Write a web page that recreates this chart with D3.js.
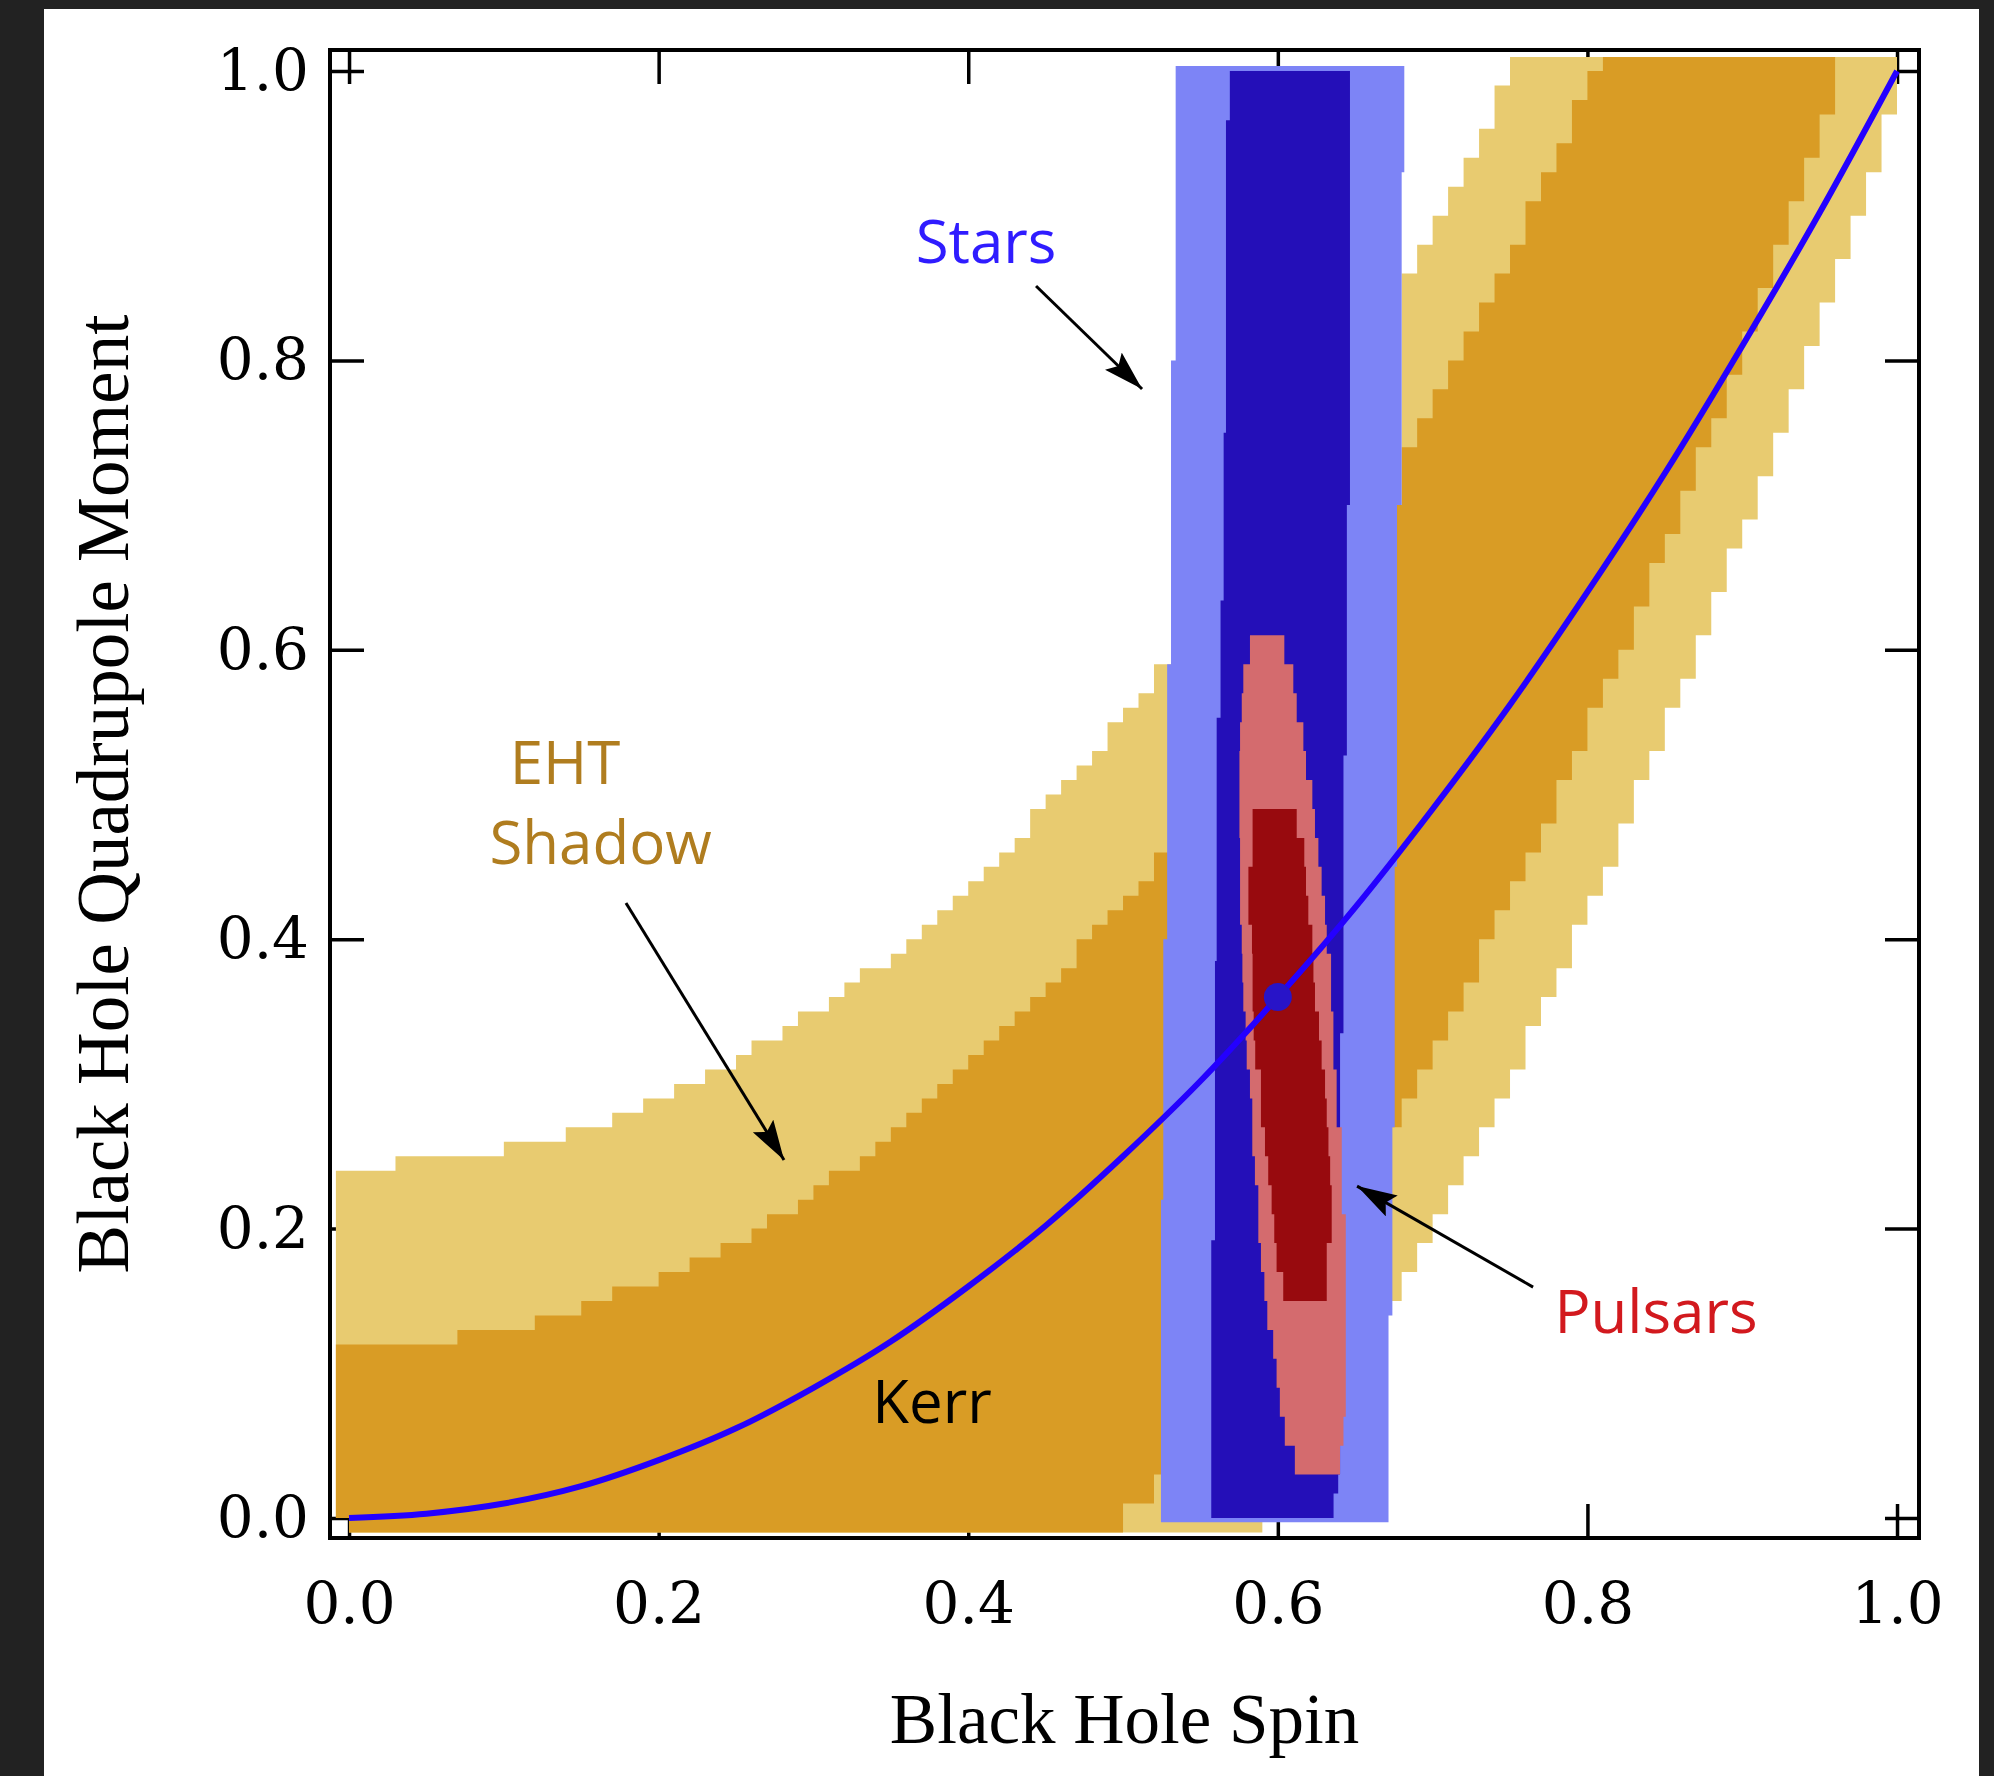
<!DOCTYPE html>
<html>
<head>
<meta charset="utf-8">
<script src="https://cdn.jsdelivr.net/npm/d3@7"></script>
<style>
  html, body { margin: 0; padding: 0; background: #222; }
  svg { display: block; }
</style>
</head>
<body>
<svg id="chart" width="1994" height="1776"></svg>
<script>
// tick values shared by all four sides
var tickValues = [0, 0.2, 0.4, 0.6, 0.8, 1.0];

// Kerr relation
var kerrSpin = [0, 0.05, 0.1, 0.15, 0.2, 0.25, 0.3, 0.35, 0.4, 0.45, 0.5, 0.55, 0.6, 0.65, 0.7, 0.75, 0.8, 0.85, 0.9, 0.95, 1.0];
var kerrQuad = [0, 0.003, 0.01, 0.022, 0.04, 0.062, 0.09, 0.122, 0.16, 0.202, 0.25, 0.302, 0.36, 0.422, 0.49, 0.562, 0.64, 0.722, 0.81, 0.902, 1.0];
var kerrPoint = [0.6, 0.36];

// EHT shadow, outer (light) band: step corners [spin, quadrupole]
var ehtOuterUpper = [[-0.01, 0.24], [0.03, 0.25], [0.10, 0.26], [0.14, 0.27], [0.17, 0.28], [0.19, 0.29], [0.21, 0.30],
  [0.23, 0.31], [0.25, 0.32], [0.26, 0.33], [0.28, 0.34], [0.29, 0.35], [0.31, 0.36], [0.32, 0.37], [0.33, 0.38],
  [0.35, 0.39], [0.36, 0.40], [0.37, 0.41], [0.38, 0.42], [0.39, 0.43], [0.40, 0.44], [0.41, 0.45], [0.42, 0.46],
  [0.43, 0.47], [0.44, 0.49], [0.45, 0.50], [0.46, 0.51], [0.47, 0.52], [0.48, 0.53], [0.49, 0.55], [0.50, 0.56],
  [0.51, 0.57], [0.52, 0.59], [0.68, 0.86], [0.69, 0.88], [0.70, 0.90], [0.71, 0.92], [0.72, 0.94], [0.73, 0.96],
  [0.74, 0.99], [0.75, 1.01], [1.0, 1.01]];
var ehtOuterLower = [[-0.01, -0.01], [0.59, 0.05], [0.67, 0.15], [0.68, 0.17], [0.69, 0.19], [0.70, 0.21], [0.71, 0.23],
  [0.72, 0.25], [0.73, 0.27], [0.74, 0.29], [0.75, 0.31], [0.76, 0.34], [0.77, 0.36], [0.78, 0.38], [0.79, 0.41],
  [0.80, 0.43], [0.81, 0.45], [0.82, 0.48], [0.83, 0.51], [0.84, 0.53], [0.85, 0.56], [0.86, 0.58], [0.87, 0.61],
  [0.88, 0.64], [0.89, 0.67], [0.90, 0.69], [0.91, 0.72], [0.92, 0.75], [0.93, 0.78], [0.94, 0.81], [0.95, 0.84],
  [0.96, 0.87], [0.97, 0.90], [0.98, 0.93], [0.99, 0.97], [1.0, 1.01]];

// EHT shadow, inner (dark) band
var ehtInnerUpper = [[-0.01, 0.12], [0.07, 0.13], [0.12, 0.14], [0.15, 0.15], [0.17, 0.16], [0.20, 0.17], [0.22, 0.18],
  [0.24, 0.19], [0.26, 0.20], [0.27, 0.21], [0.29, 0.22], [0.30, 0.23], [0.31, 0.24], [0.33, 0.25], [0.34, 0.26],
  [0.35, 0.27], [0.36, 0.28], [0.37, 0.29], [0.38, 0.30], [0.39, 0.31], [0.40, 0.32], [0.41, 0.33], [0.42, 0.34],
  [0.43, 0.35], [0.44, 0.36], [0.45, 0.37], [0.46, 0.38], [0.47, 0.40], [0.48, 0.41], [0.49, 0.42], [0.50, 0.43],
  [0.51, 0.44], [0.52, 0.46], [0.67, 0.70], [0.68, 0.74], [0.69, 0.76], [0.70, 0.78], [0.71, 0.80], [0.72, 0.82],
  [0.73, 0.84], [0.74, 0.86], [0.75, 0.88], [0.76, 0.91], [0.77, 0.93], [0.78, 0.95], [0.79, 0.98], [0.80, 1.00],
  [0.81, 1.01], [0.96, 1.01]];
var ehtInnerLower = [[-0.01, -0.01], [0.50, 0.01], [0.52, 0.03], [0.67, 0.27], [0.68, 0.29], [0.69, 0.31], [0.70, 0.33],
  [0.71, 0.35], [0.72, 0.37], [0.73, 0.40], [0.74, 0.42], [0.75, 0.44], [0.76, 0.46], [0.77, 0.48], [0.78, 0.51],
  [0.79, 0.53], [0.80, 0.56], [0.81, 0.58], [0.82, 0.60], [0.83, 0.63], [0.84, 0.66], [0.85, 0.68], [0.86, 0.71],
  [0.87, 0.74], [0.88, 0.76], [0.89, 0.79], [0.90, 0.82], [0.91, 0.85], [0.92, 0.88], [0.93, 0.91], [0.94, 0.94],
  [0.95, 0.97], [0.96, 1.01]];

// Stars: edges as [spin, quadrupole] step corners (left edge top->bottom, right edge bottom->top)
var starsOuterLeft = [[0.534, 1.0035], [0.531, 0.80], [0.5285, 0.59], [0.526, 0.40], [0.5245, 0.22], [0.5245, -0.003]];
var starsOuterRight = [[0.6715, -0.003], [0.674, 0.14], [0.6755, 0.27], [0.677, 0.45], [0.680, 0.70], [0.6817, 0.93], [0.6817, 1.0035]];
var starsInnerLeft = [[0.569, 1.0], [0.5665, 0.966], [0.565, 0.75], [0.563, 0.634], [0.5605, 0.553], [0.5594, 0.385], [0.557, 0.192], [0.557, 0.0]];
var starsInnerRight = [[0.636, 0.0], [0.639, 0.017], [0.6402, 0.03], [0.6424, 0.335], [0.6446, 0.527], [0.6466, 0.70], [0.6466, 1.0]];

// Pulsars: rows of 0.02 in quadrupole, with left / right spin edge per row
var pulsarOuterY = [0.61, 0.59, 0.57, 0.55, 0.53, 0.51, 0.49, 0.47, 0.45, 0.43, 0.41, 0.39, 0.37, 0.35, 0.33,
  0.31, 0.29, 0.27, 0.25, 0.23, 0.21, 0.19, 0.17, 0.15, 0.13, 0.11, 0.09, 0.07, 0.05, 0.03];
var pulsarOuterLeft = [0.582, 0.5777, 0.5767, 0.5756, 0.5752, 0.5752, 0.5752, 0.5756, 0.5756, 0.5756, 0.5767, 0.5771,
  0.5777, 0.5792, 0.5799, 0.582, 0.5835, 0.5835, 0.5852, 0.5874, 0.5874, 0.5891, 0.5913, 0.5932, 0.597, 0.5992,
  0.6013, 0.6045, 0.611];
var pulsarOuterRight = [0.6042, 0.610, 0.6122, 0.6165, 0.6182, 0.6223, 0.624, 0.6262, 0.6283, 0.6305, 0.6316, 0.6344,
  0.6344, 0.6359, 0.6359, 0.638, 0.638, 0.6413, 0.6413, 0.6413, 0.6439, 0.6439, 0.6439, 0.6439, 0.6439, 0.6439,
  0.6439, 0.6424, 0.6402];
var pulsarInnerY = [0.49, 0.47, 0.45, 0.43, 0.41, 0.39, 0.37, 0.35, 0.33, 0.31, 0.29, 0.27, 0.25, 0.23, 0.21, 0.19, 0.17, 0.15];
var pulsarInnerLeft = [0.5837, 0.5837, 0.581, 0.581, 0.5833, 0.5837, 0.5837, 0.5844, 0.5854, 0.5891, 0.5891, 0.5917,
  0.5938, 0.596, 0.5977, 0.5992, 0.6035];
var pulsarInnerRight = [0.6122, 0.6171, 0.6182, 0.6197, 0.6223, 0.623, 0.624, 0.6266, 0.6283, 0.6305, 0.6316, 0.6327,
  0.6338, 0.6348, 0.6348, 0.6316, 0.6316];

var svg = d3.select("#chart");

// white panel over the dark page
svg.append("rect").attr("x", 44).attr("y", 9).attr("width", 1935).attr("height", 1767).attr("fill", "#fff");

var x = d3.scaleLinear().domain([-0.0123, 1.0142]).range([330, 1919]);
var y = d3.scaleLinear().domain([-0.0138, 1.0145]).range([1538, 50]);

var fmt = d3.format(".1f");
var tickFont = "'DejaVu Serif', Georgia, serif";

function styleAxis(g) {
  g.select(".domain").remove();
  g.selectAll(".tick line").attr("stroke", "#000").attr("stroke-width", 3.5);
  g.selectAll(".tick text").attr("fill", "#000").style("font-family", tickFont).style("font-size", "58px");
}

svg.append("g").attr("transform", "translate(0," + y.range()[0] + ")")
  .call(d3.axisBottom(x).tickValues(tickValues).tickFormat(fmt).tickSizeInner(-34).tickSizeOuter(0).tickPadding(44))
  .call(styleAxis);
svg.append("g").attr("transform", "translate(0," + y.range()[1] + ")")
  .call(d3.axisTop(x).tickValues(tickValues).tickFormat("").tickSizeInner(-34).tickSizeOuter(0))
  .call(styleAxis);
svg.append("g").attr("transform", "translate(" + x.range()[0] + ",0)")
  .call(d3.axisLeft(y).tickValues(tickValues).tickFormat(fmt).tickSizeInner(-34).tickSizeOuter(0).tickPadding(21))
  .call(styleAxis);
svg.append("g").attr("transform", "translate(" + x.range()[1] + ",0)")
  .call(d3.axisRight(y).tickValues(tickValues).tickFormat("").tickSizeInner(-34).tickSizeOuter(0))
  .call(styleAxis);

// helpers to turn step corners into polygons
function stairs(pts, verticalFirst) {
  var out = [pts[0]];
  for (var i = 1; i < pts.length; i++) {
    var a = pts[i - 1], b = pts[i];
    out.push(verticalFirst ? [a[0], b[1]] : [b[0], a[1]]);
    out.push(b);
  }
  return out;
}
function band(upper, lower) {
  return stairs(upper, false).concat(stairs(lower.slice().reverse(), true));
}
function rows(ys, left, right) {
  var pts = [];
  left.forEach(function(l, i) { pts.push([l, ys[i]], [l, ys[i + 1]]); });
  for (var i = right.length - 1; i >= 0; i--) pts.push([right[i], ys[i + 1]], [right[i], ys[i]]);
  return pts;
}
var poly = d3.line().x(function(d) { return x(d[0]); }).y(function(d) { return y(d[1]); });

// clip for the EHT grid (leaves the small corner below 0 / left of 0 empty)
var clip = svg.append("defs").append("clipPath").attr("id", "grid");
clip.append("rect").attr("x", x(-0.0085)).attr("y", y(1.0097))
  .attr("width", x(1.0) - x(-0.0085)).attr("height", y(0) - y(1.0097));
clip.append("rect").attr("x", x(0)).attr("y", y(0))
  .attr("width", x(1.0) - x(0)).attr("height", y(-0.0104) - y(0));

var eht = svg.append("g").attr("clip-path", "url(#grid)");
eht.append("path").attr("d", poly(band(ehtOuterUpper, ehtOuterLower)) + "Z").attr("fill", "#e8cb70");
eht.append("path").attr("d", poly(band(ehtInnerUpper, ehtInnerLower)) + "Z").attr("fill", "#d99c25");

// stars
svg.append("path").attr("d", poly(stairs(starsOuterLeft, true).concat(stairs(starsOuterRight, true))) + "Z")
  .attr("fill", "#7d84f6");
svg.append("path").attr("d", poly(stairs(starsInnerLeft, true).concat(stairs(starsInnerRight, true))) + "Z")
  .attr("fill", "#240fb8");

// pulsars
svg.append("path").attr("d", poly(rows(pulsarOuterY, pulsarOuterLeft, pulsarOuterRight)) + "Z").attr("fill", "#d46b6e");
svg.append("path").attr("d", poly(rows(pulsarInnerY, pulsarInnerLeft, pulsarInnerRight)) + "Z").attr("fill", "#980a0e");

// frame
svg.append("rect").attr("x", x.range()[0]).attr("y", y.range()[1])
  .attr("width", x.range()[1] - x.range()[0]).attr("height", y.range()[0] - y.range()[1])
  .attr("fill", "none").attr("stroke", "#000").attr("stroke-width", 4);

// Kerr curve
var kerr = d3.line().curve(d3.curveMonotoneX)
  .x(function(d, i) { return x(kerrSpin[i]); })
  .y(function(d) { return y(d); });
svg.append("path").attr("d", kerr(kerrQuad)).attr("fill", "none").attr("stroke", "#2400ff").attr("stroke-width", 6);
svg.append("circle").attr("cx", x(kerrPoint[0])).attr("cy", y(kerrPoint[1])).attr("r", 14).attr("fill", "#2814c8");

// arrows
svg.select("defs").append("marker").attr("id", "head")
  .attr("markerUnits", "userSpaceOnUse").attr("markerWidth", 42).attr("markerHeight", 26)
  .attr("refX", 40).attr("refY", 12).attr("orient", "auto")
  .append("path").attr("d", "M0,0 L40,12 L0,24 L7,12 Z").attr("fill", "#000");

var arrows = [
  [[0.4438, 0.8514], [0.5123, 0.7802]],
  [[0.1789, 0.4250], [0.2810, 0.2474]],
  [[0.7649, 0.1596], [0.6512, 0.2294]]
];
svg.selectAll("line.arrow").data(arrows).enter().append("line").attr("class", "arrow")
  .attr("x1", function(d) { return x(d[0][0]); }).attr("y1", function(d) { return y(d[0][1]); })
  .attr("x2", function(d) { return x(d[1][0]); }).attr("y2", function(d) { return y(d[1][1]); })
  .attr("stroke", "#000").attr("stroke-width", 3).attr("marker-end", "url(#head)");

// annotations
var notes = [
  { text: "Stars", at: [0.4115, 0.8673], color: "#2f1cff" },
  { text: "EHT", at: [0.1395, 0.5073], color: "#b07d1f" },
  { text: "Shadow", at: [0.1625, 0.4520], color: "#b07d1f" },
  { text: "Kerr", at: [0.3766, 0.0657], color: "#000" },
  { text: "Pulsars", at: [0.8443, 0.1279], color: "#d2191e" }
];
svg.selectAll("text.note").data(notes).enter().append("text").attr("class", "note")
  .attr("x", function(d) { return x(d.at[0]); }).attr("y", function(d) { return y(d.at[1]); })
  .attr("text-anchor", "middle").attr("fill", function(d) { return d.color; })
  .style("font-family", "'Open Sans', 'Noto Sans', sans-serif").style("font-size", "60px")
  .text(function(d) { return d.text; });

// axis titles
var titleFont = "'Liberation Serif', 'Times New Roman', serif";
svg.append("text").attr("x", (x.range()[0] + x.range()[1]) / 2).attr("y", 1743)
  .attr("text-anchor", "middle").style("font-family", titleFont).style("font-size", "71px")
  .text("Black Hole Spin");
svg.append("text").attr("transform", "translate(128," + (y.range()[0] + y.range()[1]) / 2 + ") rotate(-90)")
  .attr("text-anchor", "middle").style("font-family", titleFont).style("font-size", "73px")
  .text("Black Hole Quadrupole Moment");
</script>
</body>
</html>
